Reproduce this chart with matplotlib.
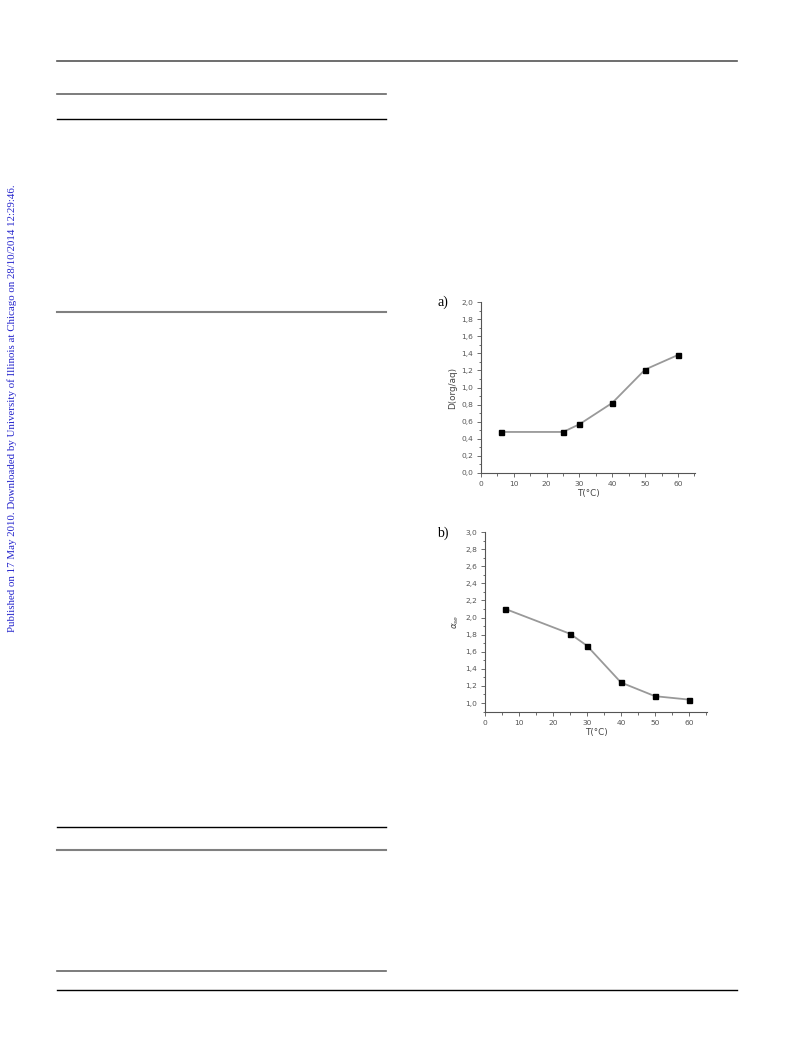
import matplotlib
matplotlib.use("Agg")
import matplotlib.pyplot as plt
from matplotlib.lines import Line2D
from matplotlib.ticker import MultipleLocator, FuncFormatter

# data
temp_a = [6, 25, 30, 40, 50, 60]
d_a = [0.48, 0.48, 0.57, 0.82, 1.21, 1.38]

temp_b = [6, 25, 30, 40, 50, 60]
alpha_b = [2.10, 1.81, 1.67, 1.24, 1.08, 1.04]

W, H = 793, 1039
fig = plt.figure(figsize=(W / 100, H / 100), dpi=100)


def px_axes(left, top, right, bottom):
    return fig.add_axes([left / W, 1 - bottom / H, (right - left) / W, (bottom - top) / H])


def comma(v, pos):
    return f"{v:.1f}".replace(".", ",")


def style(ax):
    for s in ["top", "right"]:
        ax.spines[s].set_visible(False)
    for s in ["left", "bottom"]:
        ax.spines[s].set_color("#555555")
        ax.spines[s].set_linewidth(0.8)
    ax.tick_params(which="both", direction="out", colors="#555555", labelsize=5.4,
                   labelcolor="#555555", width=0.6)
    ax.tick_params(which="major", length=3, pad=2.5)
    ax.tick_params(which="minor", length=1.8)
    ax.xaxis.set_major_locator(MultipleLocator(10))
    ax.xaxis.set_minor_locator(MultipleLocator(5))
    ax.yaxis.set_major_locator(MultipleLocator(0.2))
    ax.yaxis.set_minor_locator(MultipleLocator(0.1))
    ax.yaxis.set_major_formatter(FuncFormatter(comma))


# panel a
ax1 = px_axes(481, 302, 695, 473)
ax1.plot(temp_a, d_a, color="#999999", lw=1.3, marker="s", ms=3.6,
         mfc="black", mec="black")
ax1.set_xlim(0, 65.2)
ax1.set_ylim(0, 2.0)
style(ax1)
ax1.set_xlabel("T(°C)", fontsize=6.3, color="#444444", labelpad=2)
ax1.set_ylabel("D(org/aq)", fontsize=6.3, color="#444444", labelpad=3)

# panel b
ax2 = px_axes(485, 532, 707, 712)
ax2.plot(temp_b, alpha_b, color="#999999", lw=1.3, marker="s", ms=3.6,
         mfc="black", mec="black")
ax2.set_xlim(0, 65.3)
ax2.set_ylim(0.895, 3.0)
style(ax2)
ax2.set_xlabel("T(°C)", fontsize=6.3, color="#444444", labelpad=2)
ax2.set_ylabel(r"$\alpha_{se}$", fontsize=6.3, color="#444444", labelpad=3)

fig.text(437 / W, 1 - 302 / H, "a)", family="Liberation Serif", fontsize=10,
         va="center", ha="left")
fig.text(437 / W, 1 - 533 / H, "b)", family="Liberation Serif", fontsize=10,
         va="center", ha="left")

# page rules
rules = [
    (57, 737, 61, "#555555", 1.2),
    (57, 386, 94, "#666666", 1.2),
    (57, 386, 119, "black", 1.0),
    (57, 386, 312, "#808080", 1.5),
    (57, 386, 827, "black", 1.0),
    (57, 386, 850, "#808080", 1.5),
    (57, 386, 971, "#666666", 1.2),
    (57, 737, 990, "black", 1.0),
]
for x0, x1, y, c, lw in rules:
    fig.add_artist(Line2D([x0 / W, x1 / W], [1 - y / H, 1 - y / H],
                          transform=fig.transFigure, color=c, lw=lw))

fig.text(12 / W, 1 - 408 / H,
         "Published on 17 May 2010. Downloaded by University of Illinois at Chicago on 28/10/2014 12:29:46.",
         rotation=90, family="Liberation Serif", fontsize=7.8, color="#2424cc",
         ha="center", va="center")

fig.savefig("out.png", dpi=100)
